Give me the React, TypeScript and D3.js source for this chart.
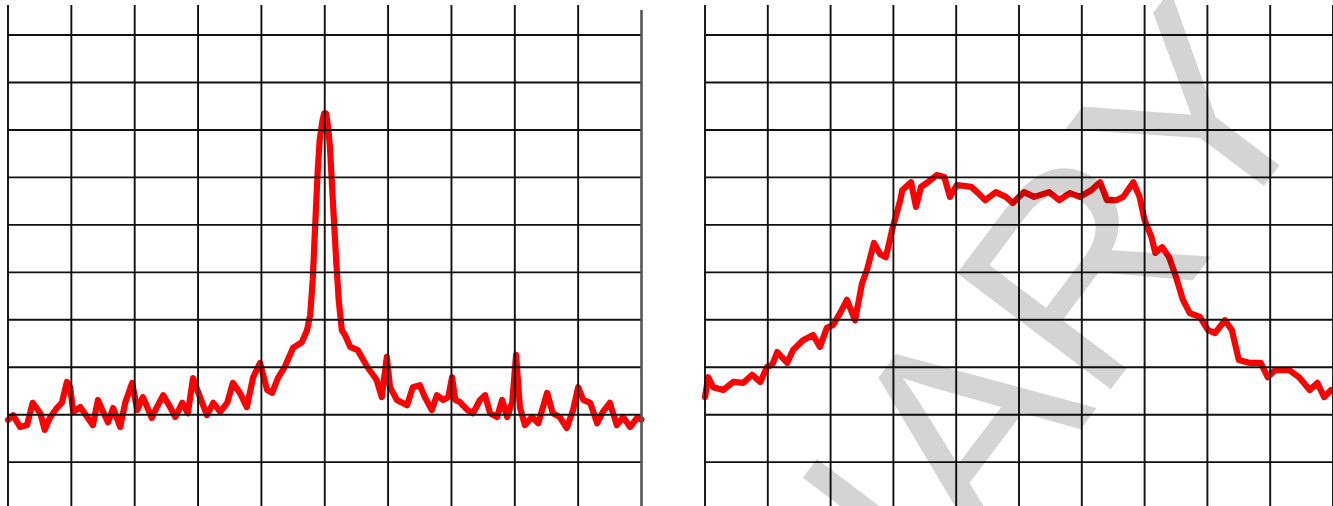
import React from "react";
import * as d3 from "d3";

// ---- data (frequency offset in divisions, level in dBm) ----
const leftFreq = [
  -5.0, -4.92, -4.81, -4.7, -4.61, -4.49, -4.42, -4.34, -4.23, -4.15, -4.07, -4.02, -3.97, -3.86, -3.75,
  -3.66, -3.58, -3.5, -3.42, -3.34, -3.23, -3.15, -3.04, -2.96, -2.87, -2.73, -2.65, -2.55, -2.44, -2.36,
  -2.25, -2.16, -2.08, -1.97, -1.86, -1.76, -1.65, -1.54, -1.45, -1.34, -1.23, -1.13, -1.02, -0.91, -0.83,
  -0.74, -0.63, -0.5, -0.36, -0.28, -0.23, -0.19, -0.14, -0.11, -0.08, -0.04, -0.01, 0.02, 0.05, 0.08,
  0.11, 0.14, 0.18, 0.22, 0.27, 0.32, 0.4, 0.52, 0.67, 0.82, 0.9, 0.98, 1.03, 1.14, 1.3, 1.39, 1.5, 1.58,
  1.69, 1.77, 1.87, 1.95, 2.01, 2.06, 2.13, 2.25, 2.34, 2.45, 2.53, 2.61, 2.72, 2.8, 2.88, 2.96, 3.02,
  3.08, 3.16, 3.27, 3.37, 3.51, 3.6, 3.71, 3.82, 3.92, 4.0, 4.08, 4.19, 4.3, 4.39, 4.5, 4.61, 4.71, 4.82,
  4.93, 5.0,
];
const leftLevel = [
  -91.1, -90.1, -92.6, -92.2, -87.5, -89.7, -93.2, -90.7, -88.6, -87.5, -83.1, -84.2, -89.4, -88.4, -90.5,
  -92.2, -86.9, -89.4, -91.6, -88.6, -92.6, -87.5, -83.3, -89.0, -86.3, -90.7, -88.4, -85.9, -88.4, -90.5,
  -87.5, -89.7, -82.3, -86.3, -90.1, -87.5, -89.4, -87.5, -83.3, -85.4, -88.4, -82.1, -79.1, -84.8, -85.4,
  -82.3, -79.9, -75.9, -74.7, -72.2, -69.0, -61.6, -46.9, -38.4, -32.1, -28.3, -26.5, -26.5, -29.0, -33.2,
  -40.5, -47.9, -57.4, -65.8, -72.2, -73.2, -75.7, -76.4, -79.9, -82.7, -86.3, -77.8, -84.2, -86.9, -88.0,
  -84.2, -83.8, -86.3, -89.0, -85.9, -86.9, -86.3, -82.1, -86.9, -87.3, -89.0, -89.7, -86.9, -85.9, -89.7,
  -90.5, -86.9, -90.5, -87.3, -77.4, -88.4, -92.2, -90.5, -91.8, -85.4, -89.7, -90.5, -92.8, -89.0, -84.2,
  -86.9, -87.5, -91.8, -89.4, -87.5, -92.2, -90.5, -92.6, -90.7, -91.0,
];

const rightFreq = [
  -5.0, -4.95, -4.87, -4.71, -4.55, -4.39, -4.25, -4.12, -4.01, -3.93, -3.85, -3.69, -3.6, -3.44, -3.28,
  -3.17, -3.06, -2.96, -2.85, -2.74, -2.61, -2.5, -2.42, -2.31, -2.21, -2.12, -2.01, -1.89, -1.86, -1.72,
  -1.64, -1.56, -1.45, -1.31, -1.19, -1.1, -0.99, -0.76, -0.65, -0.54, -0.37, -0.21, -0.1, 0.08, 0.24,
  0.48, 0.64, 0.81, 0.97, 1.15, 1.29, 1.4, 1.55, 1.66, 1.82, 1.92, 2.0, 2.11, 2.17, 2.28, 2.39, 2.5, 2.61,
  2.72, 2.88, 3.01, 3.12, 3.28, 3.39, 3.5, 3.68, 3.85, 3.96, 4.08, 4.3, 4.46, 4.63, 4.75, 4.86, 4.97,
];
const rightLevel = [
  -86.3, -82.1, -84.2, -84.8, -83.1, -83.3, -81.6, -83.1, -79.9, -79.5, -76.8, -79.1, -76.4, -74.3, -73.2,
  -75.7, -71.7, -71.1, -68.6, -65.8, -70.1, -62.3, -59.5, -53.8, -56.2, -56.8, -50.5, -44.8, -42.7, -41.0,
  -46.2, -42.0, -41.0, -39.5, -39.9, -44.1, -41.6, -42.0, -43.3, -44.8, -43.1, -44.1, -45.4, -43.1, -44.1,
  -43.1, -44.8, -43.3, -44.1, -42.7, -41.0, -44.8, -44.8, -44.1, -41.0, -44.1, -49.0, -52.6, -55.9, -54.7,
  -56.8, -61.0, -65.8, -68.6, -69.4, -72.2, -72.8, -70.1, -72.2, -78.5, -79.1, -79.1, -82.1, -80.6, -80.6,
  -82.1, -84.8, -83.3, -86.3, -84.8,
];

const freqTicks = [-5, -4, -3, -2, -1, 0, 1, 2, 3, 4, 5];
const levelTicks = [-10, -20, -30, -40, -50, -60, -70, -80, -90, -100];
const watermarkText = "PRELIMINARY";

const W = 1333;
const H = 506;

export default function App() {
  const y = d3.scaleLinear().domain([-110, 0]).range([509.6, -12.4]);
  const panels = [
    { key: "left", x: d3.scaleLinear().domain([-5, 5]).range([8, 641.5]), f: leftFreq, l: leftLevel },
    { key: "right", x: d3.scaleLinear().domain([-5, 5]).range([705, 1333]), f: rightFreq, l: rightLevel },
  ];

  return (
    <svg
      width={W}
      height={H}
      style={{ position: "absolute", left: 0, top: 0, background: "#fff" }}
    >
      <rect x={0} y={0} width={W} height={H} fill="#fff" />
      {panels.map((p) => {
        const pts = p.f.map((v, i) => [v, p.l[i]] as [number, number]);
        const line = d3
          .line<[number, number]>()
          .x((d) => p.x(d[0]))
          .y((d) => y(d[1]));
        const [x0, x1] = p.x.range();
        return (
          <g key={p.key}>
            <path
              d={line(pts) || ""}
              fill="none"
              stroke="#ff0000"
              strokeWidth={6.2}
              strokeLinejoin="round"
              strokeLinecap="round"
            />
            {levelTicks.map((t) => (
              <line
                key={"h" + t}
                x1={x0}
                x2={x1}
                y1={y(t)}
                y2={y(t)}
                stroke="#111"
                strokeWidth={1.9}
              />
            ))}
            {freqTicks.map((t) => (
              <line
                key={"v" + t}
                x1={p.x(t)}
                x2={p.x(t)}
                y1={p.key === "left" && t === 5 ? 10 : 5}
                y2={H}
                stroke={p.key === "left" && t === 5 ? "#555" : "#111"}
                strokeWidth={p.key === "left" && t === 5 ? 2.6 : 1.9}
              />
            ))}
          </g>
        );
      })}
      <text
        transform="translate(1328,101) rotate(-53)"
        textAnchor="end"
        fontFamily="'Liberation Sans', Arial, sans-serif"
        fontSize={280}
        fill="#000"
        fillOpacity={0.17}
      >
        {watermarkText}
      </text>
    </svg>
  );
}
